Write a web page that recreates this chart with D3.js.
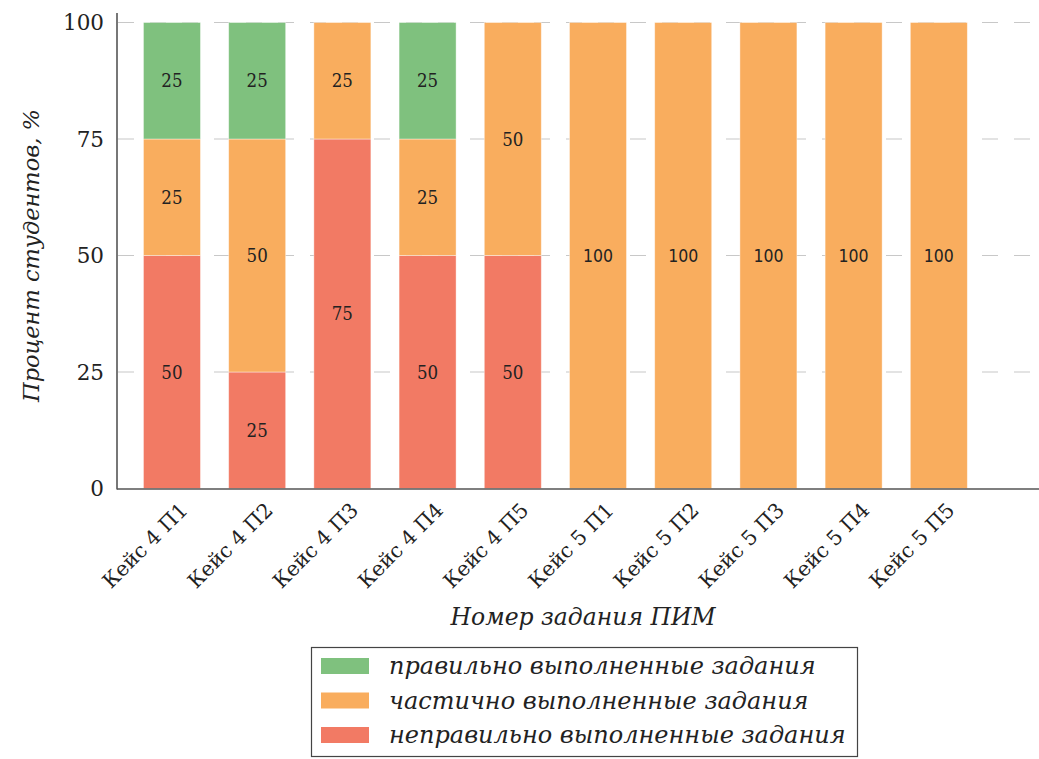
<!DOCTYPE html>
<html><head><meta charset="utf-8">
<script src="https://cdn.jsdelivr.net/npm/d3@7"></script>
<style>body{margin:0;background:#fff}svg{display:block}</style>
</head><body>
<svg id="c" width="1039" height="759"></svg>
<script>
const categories = ["Кейс 4 П1","Кейс 4 П2","Кейс 4 П3","Кейс 4 П4","Кейс 4 П5","Кейс 5 П1","Кейс 5 П2","Кейс 5 П3","Кейс 5 П4","Кейс 5 П5"];
const incorrect = [50,25,75,50,50,0,0,0,0,0];
const partial   = [25,50,25,25,50,100,100,100,100,100];
const correct   = [25,25,0,25,0,0,0,0,0,0];
const seriesNames = ["неправильно выполненные задания","частично выполненные задания","правильно выполненные задания"];
const seriesColors = ["#f27a64","#f9ad5e","#7fc17e"];
const yTicks = [0,25,50,75,100];

(function(){
const svg = d3.select("#c");
const serif = "'DejaVu Serif', serif";
const pL = 117, pR = 1030, pT = 22.5, pB = 488.5;

const x = d3.scaleLinear().domain([-0.645, 10.07]).range([pL, pR]);
const y = d3.scaleLinear().domain([0,100]).range([pB, pT]);
const bw = 57;

svg.append("g").selectAll("line").data(yTicks.filter(d=>d>0)).join("line")
  .attr("x1", pL+1).attr("x2", pR).attr("y1", d=>y(d)).attr("y2", d=>y(d))
  .attr("stroke","#c8c8c8").attr("stroke-width",1.2).attr("stroke-dasharray","16,16");

const stackData = categories.map((c,i)=>({i, s0:incorrect[i], s1:partial[i], s2:correct[i]}));
const stack = d3.stack().keys(["s0","s1","s2"])(stackData);

const g = svg.append("g");
stack.forEach((layer,k)=>{
  layer.forEach(seg=>{
    const v = seg[1]-seg[0];
    if (v<=0) return;
    const i = seg.data.i;
    g.append("rect").attr("x", x(i)-bw/2).attr("width", bw)
      .attr("y", y(seg[1])).attr("height", y(seg[0])-y(seg[1]))
      .attr("fill", seriesColors[k]).attr("stroke","rgba(255,255,255,0.5)").attr("stroke-width",0.8);
    g.append("text").attr("x", x(i)).attr("y", y((seg[0]+seg[1])/2)+6.5)
      .attr("text-anchor","middle").attr("font-family", v===100 ? "'DejaVu Sans Condensed', sans-serif" : "'DejaVu Serif Condensed', serif")
      .attr("font-size", v===100 ? 17.5 : 18.5).attr("fill","#222").text(v);
  });
});

svg.append("line").attr("x1",pL).attr("x2",pL).attr("y1",13).attr("y2",pB+1)
  .attr("stroke","#555").attr("stroke-width",1.6);
svg.append("line").attr("x1",pL).attr("x2",1039).attr("y1",pB+0.5).attr("y2",pB+0.5)
  .attr("stroke","#555").attr("stroke-width",1.6);

svg.append("g").selectAll("text").data(yTicks).join("text")
  .attr("x",104).attr("y",d=>y(d)+7.5).attr("text-anchor","end")
  .attr("font-family",serif).attr("font-size",21.5).attr("fill","#222").text(d=>d);

svg.append("g").selectAll("text").data(categories).join("text")
  .attr("transform",(d,i)=>`translate(${x(i)+17},${pB+23}) rotate(-45)`)
  .attr("text-anchor","end").attr("font-family",serif).attr("font-size",20.5).attr("fill","#222").text(d=>d);

svg.append("text").attr("transform",`translate(39,${(pT+pB)/2}) rotate(-90)`)
  .attr("text-anchor","middle").attr("font-family",serif).attr("font-style","italic")
  .attr("font-size",22.5).attr("fill","#222").text("Процент студентов, %");
svg.append("text").attr("x",583).attr("y",625).attr("text-anchor","middle")
  .attr("font-family",serif).attr("font-style","italic").attr("font-size",23.5).attr("fill","#222")
  .text("Номер задания ПИМ");

const lg = svg.append("g");
lg.append("rect").attr("x",311.5).attr("y",647.5).attr("width",546).attr("height",109)
  .attr("fill","#fff").attr("stroke","#444").attr("stroke-width",1.2);
[2,1,0].forEach((k,r)=>{
  const cy = 666 + r*34.5;
  lg.append("rect").attr("x",321).attr("y",cy-8).attr("width",48).attr("height",16).attr("fill",seriesColors[k]);
  lg.append("text").attr("x",389).attr("y",cy+8).attr("font-family",serif).attr("font-style","italic")
    .attr("font-size",24).attr("fill","#222").text(seriesNames[k]);
});
})();
</script>
</body></html>
